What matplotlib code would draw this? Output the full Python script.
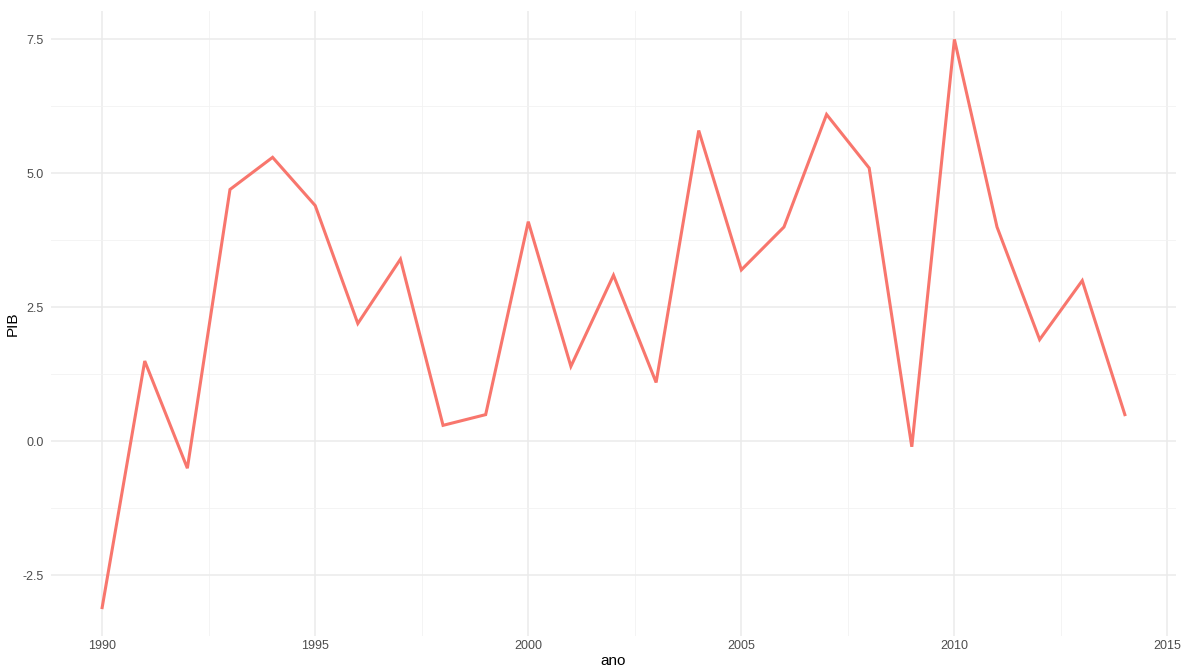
import matplotlib
matplotlib.use("Agg")
import matplotlib.pyplot as plt
from matplotlib.ticker import MultipleLocator

# --- Data: PIB growth per year ---------------------------------------------
ano = list(range(1990, 2015))
pib = [-3.1, 1.5, -0.5, 4.7, 5.3, 4.4, 2.2, 3.4, 0.3, 0.5,
       4.1, 1.4, 3.1, 1.1, 5.8, 3.2, 4.0, 6.1, 5.1, -0.1,
       7.5, 4.0, 1.9, 3.0, 0.5]

plt.rcParams["font.family"] = ["Liberation Sans", "DejaVu Sans"]

W, H = 1185, 671
fig = plt.figure(figsize=(W / 100, H / 100), dpi=100)
ax = fig.add_axes([51 / W, 35 / H, (1176 - 51) / W, (636 - 11) / H])

ax.plot(ano, pib, color="#F8766D", linewidth=2.2, solid_joinstyle="miter", zorder=3)

# ggplot-style expansion (5% each side)
xr = max(ano) - min(ano)
yr = max(pib) - min(pib)
ax.set_xlim(min(ano) - 0.05 * xr, max(ano) + 0.05 * xr)
ax.set_ylim(min(pib) - 0.05 * yr, max(pib) + 0.05 * yr)

ax.xaxis.set_major_locator(MultipleLocator(5))
ax.xaxis.set_minor_locator(MultipleLocator(2.5))
ax.yaxis.set_major_locator(MultipleLocator(2.5))
ax.yaxis.set_minor_locator(MultipleLocator(1.25))
ax.yaxis.set_major_formatter(lambda v, p: f"{v:.1f}")

ax.grid(which="major", color="#EBEBEB", linewidth=1.1)
ax.grid(which="minor", color="#F2F2F2", linewidth=0.6)
ax.set_axisbelow(True)
for s in ax.spines.values():
    s.set_visible(False)
ax.tick_params(which="both", length=0, labelsize=9, colors="#4D4D4D")
ax.tick_params(axis="x", pad=3)
ax.tick_params(axis="y", pad=5)

ax.set_xlabel("ano", fontsize=11, color="black", labelpad=1)
ax.set_ylabel("PIB", fontsize=11, color="black", labelpad=2)

fig.savefig("out.png", dpi=100)
